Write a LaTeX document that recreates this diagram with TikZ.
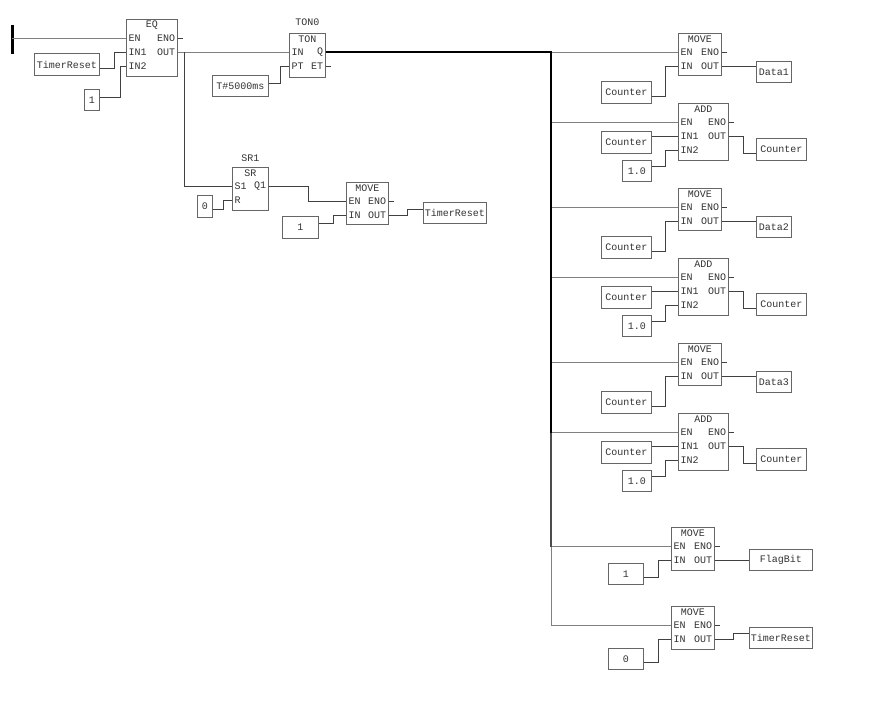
\documentclass[tikz,border=0pt]{standalone}
\usepackage{fontspec}
\setmonofont{Liberation Mono}
\usetikzlibrary{calc}

\newcommand{\plcfont}{\ttfamily\fontsize{10}{12}\selectfont}

\tikzset{
  blk/.style={draw=black!60, line width=0.9pt, fill=white, inner sep=0pt, anchor=north west},
  var/.style 2 args={draw=black!60, line width=0.9pt, font=\plcfont, text=black!80,
    inner sep=0pt, anchor=north west, minimum width=#1pt, minimum height=#2pt},
  pin/.style={font=\plcfont, text=black!80, inner xsep=2.5pt, inner ysep=0pt},
  wire/.style={draw=black!75, line width=0.7pt},
  rung/.style={draw=black!50, line width=0.9pt},
  bus/.style={draw=black, line width=2pt},
}

% function block: name, top left, width, height, title
\newcommand{\plcblk}[5]{%
  \node[blk, minimum width=#3pt, minimum height=#4pt] (#1) at #2 {};
  \node[pin] (#1-t) at ([yshift=-6.5pt]#1.north) {#5};
}
% one row of pins: block, row, left pin, right pin
\newcommand{\pinrow}[4]{%
  \coordinate (#1-l#2) at ([yshift={-5.5pt-14pt*#2}]#1.north west);
  \coordinate (#1-r#2) at ([yshift={-5.5pt-14pt*#2}]#1.north east);
  \node[pin, anchor=west] (#1-pl#2) at (#1-l#2) {#3};
  \node[pin, anchor=east] (#1-pr#2) at (#1-r#2) {#4};
  \if\relax\detokenize{#4}\relax\else\draw[wire] (#1-r#2) -- ++(5,0);\fi
}

\begin{document}
\begin{tikzpicture}[x=1pt, y=-1pt]
\useasboundingbox[fill=white] (0,0) rectangle (881,703);

% power rail
\draw[line width=3pt] (12,25) -- (12,54);
\coordinate (rail) at (12,40);

% EQ
\plcblk{eq}{(126,19)}{51}{57}{EQ}
\pinrow{eq}{1}{EN}{ENO}
\pinrow{eq}{2}{IN1}{OUT}
\pinrow{eq}{3}{IN2}{}
\node[var={65}{22}] (tr1) at (34,53) {TimerReset};
\node[var={15}{21}] (one1) at (84,89) {1};
\draw[rung] (rail |- eq-l1) -- (eq-l1);
\draw[wire] ([yshift=-4pt]tr1.east) -- ++(14,0) |- (eq-l2);
\draw[wire] ([yshift=3pt]one1.east) -- ++(20,0) |- (eq-l3);

% TON
\plcblk{ton}{(289,33)}{36}{44}{TON}
\pinrow{ton}{1}{IN}{Q}
\pinrow{ton}{2}{PT}{ET}
\node[pin] (ton-n) at ([yshift=11pt]ton.north) {TON0};
\node[var={56}{21}] (t5s) at (212,75) {T\#5000ms};
\draw[rung] (eq-r2) -- (ton-l1);
\draw[wire] ([yshift=2.5pt]t5s.east) -- ++(11,0) |- (ton-l2);

% SR and MOVE
\plcblk{sr}{(232,167)}{36}{43}{SR}
\pinrow{sr}{1}{S1}{Q1}
\pinrow{sr}{2}{R}{}
\node[pin] (sr-n) at ([yshift=9pt]sr.north) {SR1};
\node[var={15}{22}] (zero1) at (197,195) {0};
\draw[wire] ([xshift=6pt]eq-r2) |- (sr-l1);
\draw[wire] ([yshift=-3pt]zero1.east) -- ++(10,0) |- (sr-l2);

\plcblk{mva}{(346,182)}{42}{42}{MOVE}
\pinrow{mva}{1}{EN}{ENO}
\pinrow{mva}{2}{IN}{OUT}
\node[var={36}{22}] (one2) at (282,216) {1};
\node[var={63}{21}] (tr2) at (423,202) {TimerReset};
\draw[wire] (sr-r1) -- ++(39,0) |- (mva-l1);
\draw[wire] ([yshift=4pt]one2.east) -- ++(14,0) |- (mva-l2);
\draw[wire] (mva-r2) -- ++(18,0) |- ([yshift=3.5pt]tr2.west);

% right column
\coordinate (bus) at (551,0);
\foreach \i [evaluate=\i as \o using int(155*\i), evaluate=\i as \d using int(\i+1)] in {0,1,2}{
  \plcblk{mv\i}{(678,33+\o)}{43}{42}{MOVE}
  \pinrow{mv\i}{1}{EN}{ENO}
  \pinrow{mv\i}{2}{IN}{OUT}
  \node[var={50}{22}] (cin\i) at (601,81+\o) {Counter};
  \node[var={35}{21}] (dat\i) at (756,61+\o) {Data\d};
  \draw[rung] (mv\i-l1 -| bus) -- (mv\i-l1);
  \draw[wire] ([yshift=-4pt]cin\i.east) -- ++(13,0) |- (mv\i-l2);
  \draw[wire] (mv\i-r2) -- (mv\i-r2 -| dat\i.west);

  \plcblk{add\i}{(678,103+\o)}{50}{57}{ADD}
  \pinrow{add\i}{1}{EN}{ENO}
  \pinrow{add\i}{2}{IN1}{OUT}
  \pinrow{add\i}{3}{IN2}{}
  \node[var={50}{22}] (cia\i) at (601,131+\o) {Counter};
  \node[var={29}{21}] (cst\i) at (622,160+\o) {1.0};
  \node[var={50}{22}] (cou\i) at (756,138+\o) {Counter};
  \draw[rung] (add\i-l1 -| bus) -- (add\i-l1);
  \draw[wire] (add\i-l2 -| cia\i.east) -- (add\i-l2);
  \draw[wire] ([yshift=4.5pt]cst\i.east) -- ++(13,0) |- (add\i-l3);
  \draw[wire] (add\i-r2) -- ++(14,0) |- ([yshift=-4pt]cou\i.west);
}

\plcblk{mv3}{(671,527)}{43}{43}{MOVE}
\pinrow{mv3}{1}{EN}{ENO}
\pinrow{mv3}{2}{IN}{OUT}
\node[var={35}{21}] (one3) at (608,563) {1};
\node[var={63}{21}] (flag) at (749,549) {FlagBit};
\draw[rung] (mv3-l1 -| bus) -- (mv3-l1);
\draw[wire] ([yshift=-3.5pt]one3.east) -- ++(14,0) |- (mv3-l2);
\draw[wire] (mv3-r2) -- (mv3-r2 -| flag.west);

\plcblk{mv4}{(671,606)}{43}{43}{MOVE}
\pinrow{mv4}{1}{EN}{ENO}
\pinrow{mv4}{2}{IN}{OUT}
\node[var={35}{21}] (zero2) at (608,648) {0};
\node[var={63}{21}] (tr3) at (749,627) {TimerReset};
\draw[rung] (mv4-l1 -| bus) -- (mv4-l1);
\draw[wire] ([yshift=-3.5pt]zero2.east) -- ++(14,0) |- (mv4-l2);
\draw[wire] (mv4-r2) -- ++(18,0) |- ([yshift=4.5pt]tr3.west);

% bus from TON0.Q
\draw[bus] (ton-r1) -| (add2-l1 -| bus);
\draw[draw=black!70, line width=1.5pt] (add2-l1 -| bus) -- (mv3-l1 -| bus);
\draw[rung] (mv3-l1 -| bus) -- (mv4-l1 -| bus);
\end{tikzpicture}
\end{document}
